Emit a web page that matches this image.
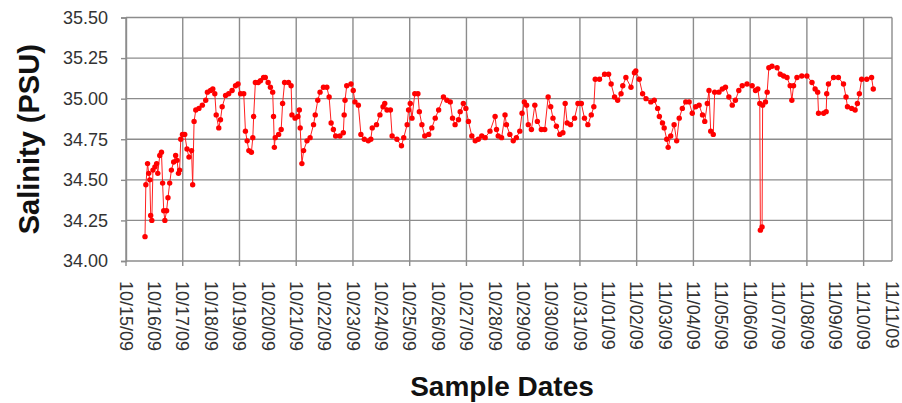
<!DOCTYPE html>
<html>
<head>
<meta charset="utf-8">
<script src="https://cdn.jsdelivr.net/npm/d3@7"></script>
<style>
  body { margin: 0; background: #fff; }
  svg { display: block; font-family: Arial, "Liberation Sans", sans-serif; }
</style>
</head>
<body>
<div id="chart"></div>
<script>
// days since 10/15/09 00:00
const sampleDay = [
  0.67, 0.70, 0.76, 0.80, 0.84, 0.87, 0.91, 0.95, 1.02, 1.08,
  1.12, 1.19, 1.25, 1.29, 1.33, 1.37, 1.43, 1.48, 1.54, 1.60,
  1.68, 1.75, 1.80, 1.85, 1.89, 1.93, 1.99, 2.07, 2.15, 2.22,
  2.31, 2.35, 2.40, 2.46, 2.57, 2.69, 2.81, 2.87, 2.98, 3.06,
  3.13, 3.18, 3.27, 3.33, 3.39, 3.51, 3.62, 3.74, 3.86, 3.95,
  4.04, 4.15, 4.21, 4.27, 4.33, 4.42, 4.47, 4.50, 4.56, 4.66,
  4.74, 4.85, 4.91, 5.01, 5.09, 5.17, 5.20, 5.23, 5.26, 5.38,
  5.47, 5.52, 5.59, 5.73, 5.82, 5.85, 5.96, 6.06, 6.11, 6.14,
  6.20, 6.26, 6.38, 6.49, 6.61, 6.67, 6.76, 6.84, 6.96, 7.08,
  7.16, 7.23, 7.31, 7.39, 7.54, 7.66, 7.69, 7.72, 7.78, 7.93,
  8.01, 8.07, 8.19, 8.28, 8.40, 8.54, 8.63, 8.68, 8.83, 8.95,
  9.06, 9.12, 9.20, 9.32, 9.38, 9.55, 9.71, 9.79, 9.91, 9.96,
  10.02, 10.08, 10.18, 10.29, 10.34, 10.43, 10.53, 10.67, 10.78, 10.90,
  11.02, 11.19, 11.31, 11.43, 11.51, 11.60, 11.72, 11.78, 11.89, 11.98,
  12.07, 12.19, 12.31, 12.42, 12.54, 12.66, 12.83, 13.01, 13.06, 13.12,
  13.24, 13.36, 13.41, 13.53, 13.65, 13.76, 13.88, 13.96, 14.04, 14.12,
  14.18, 14.29, 14.41, 14.50, 14.64, 14.76, 14.88, 14.97, 15.05, 15.17,
  15.29, 15.40, 15.48, 15.55, 15.67, 15.81, 15.93, 16.05, 16.16, 16.28,
  16.40, 16.49, 16.54, 16.69, 16.87, 17.01, 17.10, 17.22, 17.33, 17.45,
  17.51, 17.62, 17.80, 17.92, 17.97, 18.09, 18.21, 18.33, 18.50, 18.62,
  18.74, 18.80, 18.91, 18.97, 19.06, 19.11, 19.20, 19.32, 19.41, 19.50,
  19.61, 19.73, 19.85, 19.96, 20.08, 20.20, 20.32, 20.40, 20.49, 20.55,
  20.61, 20.70, 20.75, 20.90, 21.02, 21.13, 21.25, 21.37, 21.48, 21.60,
  21.72, 21.89, 22.07, 22.19, 22.27, 22.34, 22.36, 22.42, 22.44, 22.54,
  22.60, 22.66, 22.77, 22.95, 23.06, 23.18, 23.30, 23.41, 23.47, 23.53,
  23.65, 23.82, 24.00, 24.18, 24.29, 24.38, 24.41, 24.59, 24.68, 24.70,
  24.76, 24.94, 25.11, 25.29, 25.38, 25.43, 25.58, 25.70, 25.78, 25.85,
  25.93, 26.11, 26.28, 26.34
];

const salinity = [
  34.15, 34.47, 34.60, 34.54, 34.50, 34.28, 34.25, 34.56, 34.58, 34.60,
  34.54, 34.65, 34.67, 34.48, 34.31, 34.25, 34.31, 34.39, 34.48, 34.56,
  34.61, 34.65, 34.62, 34.54, 34.56, 34.75, 34.78, 34.78, 34.69, 34.64,
  34.68, 34.47, 34.86, 34.93, 34.94, 34.96, 34.99, 35.04, 35.05, 35.06,
  35.03, 34.90, 34.82, 34.87, 34.95, 35.02, 35.03, 35.05, 35.08, 35.09,
  35.03, 35.03, 34.80, 34.74, 34.68, 34.67, 34.76, 34.89, 35.10, 35.10,
  35.11, 35.13, 35.13, 35.10, 35.07, 35.04, 34.89, 34.70, 34.76, 34.78,
  34.81, 34.97, 35.10, 35.10, 35.08, 34.90, 34.88, 34.89, 34.93, 34.82,
  34.60, 34.68, 34.74, 34.76, 34.84, 34.90, 34.99, 35.04, 35.07, 35.07,
  35.01, 34.85, 34.81, 34.77, 34.77, 34.79, 34.90, 34.99, 35.08, 35.09,
  35.05, 34.98, 34.96, 34.78, 34.75, 34.74, 34.75, 34.82, 34.84, 34.90,
  34.95, 34.97, 34.93, 34.93, 34.77, 34.75, 34.71, 34.76, 34.84, 34.93,
  34.97, 34.88, 35.03, 35.03, 34.92, 34.84, 34.77, 34.78, 34.82, 34.88,
  34.93, 35.01, 34.99, 34.98, 34.88, 34.84, 34.87, 34.92, 34.97, 34.94,
  34.86, 34.77, 34.74, 34.75, 34.77, 34.76, 34.80, 34.89, 34.81, 34.77,
  34.76, 34.90, 34.84, 34.78, 34.74, 34.76, 34.80, 34.91, 34.98, 34.96,
  34.84, 34.81, 34.96, 34.86, 34.81, 34.81, 35.01, 34.95, 34.88, 34.83,
  34.78, 34.79, 34.97, 34.85, 34.84, 34.88, 34.97, 34.97, 34.88, 34.84,
  34.90, 34.95, 35.12, 35.12, 35.15, 35.15, 35.09, 35.01, 34.99, 35.03,
  35.08, 35.13, 35.07, 35.16, 35.17, 35.12, 35.03, 35.00, 34.98, 34.99,
  34.94, 34.89, 34.85, 34.82, 34.75, 34.70, 34.77, 34.84, 34.74, 34.88,
  34.94, 34.98, 34.98, 34.91, 34.95, 34.96, 34.90, 34.86, 34.97, 35.05,
  34.80, 34.78, 35.04, 35.04, 35.06, 35.07, 35.01, 34.96, 34.99, 35.05,
  35.08, 35.09, 35.08, 35.05, 35.06, 34.97, 34.19, 34.21, 34.96, 34.98,
  35.04, 35.19, 35.20, 35.19, 35.15, 35.14, 35.13, 35.08, 34.99, 35.08,
  35.13, 35.14, 35.14, 35.10, 35.06, 35.04, 34.91, 34.91, 34.92, 35.03,
  35.09, 35.13, 35.13, 35.09, 35.01, 34.95, 34.94, 34.93, 34.97, 35.03,
  35.12, 35.12, 35.13, 35.06
];

const dateLabels = [
  "10/15/09", "10/16/09", "10/17/09", "10/18/09", "10/19/09", "10/20/09",
  "10/21/09", "10/22/09", "10/23/09", "10/24/09", "10/25/09", "10/26/09",
  "10/27/09", "10/28/09", "10/29/09", "10/30/09", "10/31/09", "11/01/09",
  "11/02/09", "11/03/09", "11/04/09", "11/05/09", "11/06/09", "11/07/09",
  "11/08/09", "11/09/09", "11/10/09", "11/11/09"
];

const yTicks = [34.0, 34.25, 34.5, 34.75, 35.0, 35.25, 35.5];

const width = 902,
  height = 403;
const margin = { top: 17.5, right: 10, bottom: 142, left: 126 };

const svg = d3
  .select("#chart")
  .append("svg")
  .attr("width", width)
  .attr("height", height);

const x = d3
  .scaleLinear()
  .domain([0, dateLabels.length - 1])
  .range([margin.left, width - margin.right]);

const y = d3
  .scaleLinear()
  .domain([34, 35.5])
  .range([height - margin.bottom, margin.top]);

const gridColor = "#8c8c8c";

// horizontal grid
svg
  .append("g")
  .selectAll("line")
  .data(yTicks)
  .join("line")
  .attr("x1", x(0))
  .attr("x2", x(dateLabels.length - 1))
  .attr("y1", (d) => y(d))
  .attr("y2", (d) => y(d))
  .attr("stroke", gridColor)
  .attr("stroke-width", 1.4);

// vertical grid every other day, plus right border
const vGrid = d3.range(0, dateLabels.length, 2).concat([dateLabels.length - 1]);
svg
  .append("g")
  .selectAll("line")
  .data(vGrid)
  .join("line")
  .attr("x1", (d) => x(d))
  .attr("x2", (d) => x(d))
  .attr("y1", y(35.5))
  .attr("y2", (d) => (d === dateLabels.length - 1 ? y(34) : y(34) + 5))
  .attr("stroke", gridColor)
  .attr("stroke-width", 1.4);

// y axis
const yAxis = svg
  .append("g")
  .attr("transform", `translate(${x(0)},0)`)
  .call(
    d3
      .axisLeft(y)
      .tickValues(yTicks)
      .tickSize(5)
      .tickPadding(13)
      .tickFormat(d3.format(".2f")),
  );
yAxis.select(".domain").attr("stroke", gridColor).attr("stroke-width", 1.4);
yAxis.selectAll(".tick line").attr("stroke", gridColor).attr("stroke-width", 1.4);
yAxis
  .selectAll(".tick text")
  .attr("fill", "#333")
  .style("font-size", "18px");

// x axis labels (rotated, read top to bottom)
svg
  .append("g")
  .selectAll("text")
  .data(dateLabels)
  .join("text")
  .attr("transform", (d, i) => `translate(${x(i)},${y(34) + 20}) rotate(90)`)
  .attr("dy", "0.35em")
  .attr("text-anchor", "start")
  .attr("fill", "#333")
  .style("font-size", "18px")
  .text((d) => d);

// line + markers
const pts = sampleDay.map((d, i) => [d, salinity[i]]);

svg
  .append("path")
  .datum(pts)
  .attr("fill", "none")
  .attr("stroke", "#ff2020")
  .attr("stroke-width", 1)
  .attr(
    "d",
    d3
      .line()
      .x((d) => x(d[0]))
      .y((d) => y(d[1])),
  );

svg
  .append("g")
  .selectAll("circle")
  .data(pts)
  .join("circle")
  .attr("cx", (d) => x(d[0]))
  .attr("cy", (d) => y(d[1]))
  .attr("r", 2.7)
  .attr("fill", "#ff0000");

// titles
svg
  .append("text")
  .attr("transform", `translate(39,${(y(35.5) + y(34)) / 2}) rotate(-90)`)
  .attr("text-anchor", "middle")
  .attr("font-weight", "bold")
  .attr("fill", "#111")
  .style("font-size", "29px")
  .text("Salinity (PSU)");

svg
  .append("text")
  .attr("x", 502)
  .attr("y", 396)
  .attr("text-anchor", "middle")
  .attr("font-weight", "bold")
  .attr("fill", "#111")
  .style("font-size", "28px")
  .text("Sample Dates");
</script>
</body>
</html>
